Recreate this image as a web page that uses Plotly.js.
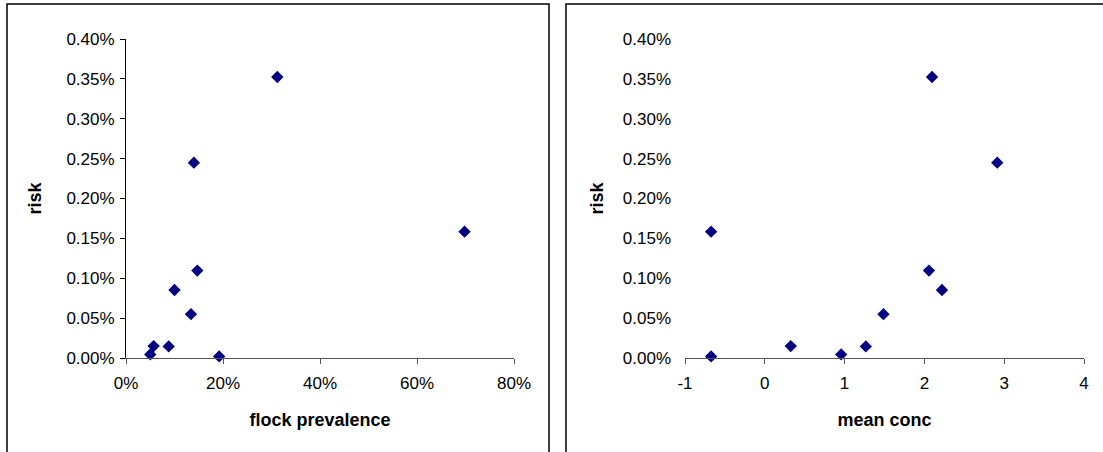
<!DOCTYPE html>
<html>
<head>
<meta charset="utf-8">
<script src="https://cdn.plot.ly/plotly-3.0.1.min.js"></script>
<style>
html,body{margin:0;padding:0;background:#fff;}
#chart{width:1103px;height:452px;}
</style>
</head>
<body>
<div id="chart"></div>
<script>
// ---- data ----
const flockPrevalence = [0.312, 0.140, 0.698, 0.147, 0.100, 0.134, 0.057, 0.088, 0.050, 0.192];
const meanConc        = [2.096, 2.913, -0.673, 2.057, 2.220, 1.487, 0.325, 1.266, 0.957, -0.673];
const risk            = [0.003524, 0.002449, 0.001584, 0.001096, 0.000852, 0.000550, 0.000149, 0.000145, 0.000045, 0.000020];
const leftTitleX  = 'flock prevalence';
const rightTitleX = 'mean conc';
const titleY = 'risk';
const concTickVals = [-1, 0, 1, 2, 3, 4];
const concTickText = ['-1', '0', '1', '2', '3', '4'];

// ---- geometry (pixels) ----
const W = 1103, H = 452;
const px = v => v / W, py = v => 1 - v / H;
const plotTop = 39, plotBottom = 358;
const L = {x0: 126, x1: 514};
const R = {x0: 685, x1: 1084};
const yDomain = [py(plotBottom), py(plotTop)];

const FONT = 'Liberation Sans, Arial, sans-serif';
const tickFont = {family: FONT, size: 17, color: '#000'};
const titleFont = {family: FONT, size: 18, color: '#000', weight: 'bold'};
const markerStyle = {symbol: 'diamond', size: 9.5, color: '#000080'};

const traces = [
  {x: flockPrevalence, y: risk, xaxis: 'x', yaxis: 'y', type: 'scatter', mode: 'markers', marker: markerStyle, cliponaxis: false},
  {x: meanConc, y: risk, xaxis: 'x2', yaxis: 'y2', type: 'scatter', mode: 'markers', marker: markerStyle, cliponaxis: false}
];

const xAxisLine = '#555';
const layout = {
  width: W, height: H,
  margin: {l: 0, r: 0, t: 0, b: 0},
  paper_bgcolor: '#fff', plot_bgcolor: 'rgba(0,0,0,0)',
  showlegend: false, hovermode: false,
  xaxis: {
    domain: [px(L.x0), px(L.x1)], anchor: 'y', range: [0, 0.8], dtick: 0.2, tickformat: '.0%',
    showgrid: false, zeroline: false, showline: true, linecolor: xAxisLine, linewidth: 1,
    ticks: 'outside', ticklen: 5, tickcolor: xAxisLine, tickfont: tickFont, ticklabelstandoff: 5,
    title: {text: leftTitleX, font: titleFont, standoff: 20}
  },
  yaxis: {
    domain: yDomain, anchor: 'x', range: [0, 0.004], dtick: 0.0005, tickformat: '.2%',
    showgrid: false, zeroline: false, showline: true, linecolor: '#000', linewidth: 1,
    ticks: 'outside', ticklen: 5, tickcolor: '#000', tickfont: tickFont, ticklabelstandoff: 2,
    title: {text: titleY, font: titleFont, standoff: 20}
  },
  xaxis2: {
    domain: [px(R.x0), px(R.x1)], anchor: 'y2', range: [-1, 4], tickvals: concTickVals, ticktext: concTickText,
    showgrid: false, zeroline: false, showline: true, linecolor: xAxisLine, linewidth: 1,
    ticks: 'outside', ticklen: 5, tickcolor: xAxisLine, tickfont: tickFont, ticklabelstandoff: 5,
    title: {text: rightTitleX, font: titleFont, standoff: 20}
  },
  yaxis2: {
    domain: yDomain, anchor: 'x2', range: [0, 0.004], dtick: 0.0005, tickformat: '.2%',
    showgrid: false, zeroline: false, showline: false,
    ticks: '', tickfont: tickFont, ticklabelstandoff: 13,
    title: {text: titleY, font: titleFont, standoff: 14}
  },
  yaxis3: {
    overlaying: 'y2', anchor: 'free', position: px(R.x0 + (R.x1 - R.x0) / 5), side: 'left',
    range: [0, 0.004], dtick: 0.0005,
    showgrid: false, zeroline: false, showline: true, linecolor: '#000', linewidth: 1,
    ticks: 'outside', ticklen: 5, tickcolor: '#000', showticklabels: false
  },
  shapes: [
    {type: 'rect', xref: 'paper', yref: 'paper', x0: px(7), x1: px(549), y0: -0.2, y1: py(4),
     line: {color: '#000', width: 1.5}, fillcolor: 'rgba(0,0,0,0)', layer: 'below'},
    {type: 'rect', xref: 'paper', yref: 'paper', x0: px(566), x1: 1.2, y0: -0.2, y1: py(4),
     line: {color: '#000', width: 1.5}, fillcolor: 'rgba(0,0,0,0)', layer: 'below'}
  ]
};

Plotly.newPlot('chart', traces, layout, {displayModeBar: false, staticPlot: true});
</script>
</body>
</html>
